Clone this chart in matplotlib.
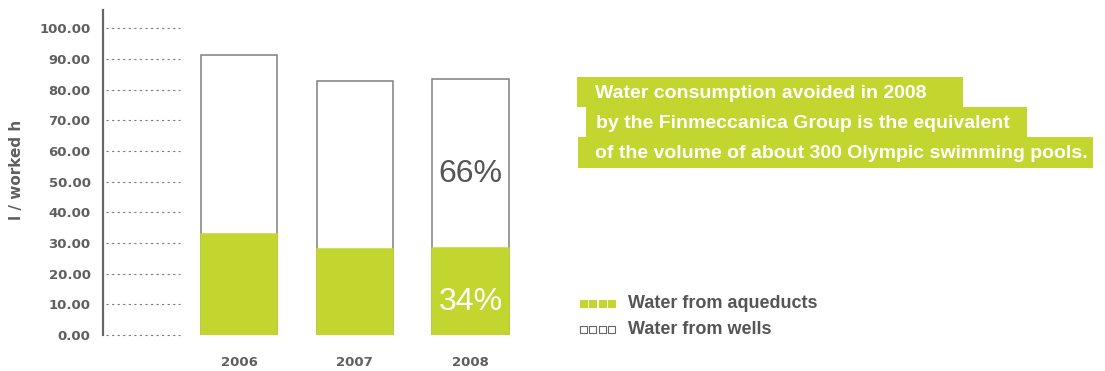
import numpy as np
import matplotlib.pyplot as plt
from matplotlib.patches import Rectangle

# water use per worked hour, litres
years = ["2006", "2007", "2008"]
aqueducts = [32.8, 28.0, 28.4]
wells = [58.5, 54.9, 55.0]
yticks = [0, 10, 20, 30, 40, 50, 60, 70, 80, 90, 100]

note_lines = [
    "Water consumption avoided in 2008",
    "by the Finmeccanica Group is the equivalent",
    "of the volume of about 300 Olympic swimming pools.",
]
legend_labels = ["Water from aqueducts", "Water from wells"]

GREEN = "#c3d62f"
GREY = "#5f5f5f"
EDGE = "#808080"

W, H = 1105, 371
fig = plt.figure(figsize=(W / 100, H / 100), dpi=100)


def fx(px):
    return px / W


def fy(py):
    return 1 - py / H


# axes placed in pixels: spine at x=103, baseline at y=335
ax = fig.add_axes([fx(103), fy(335), fx(530) - fx(103), fy(10) - fy(335)])
ax.set_xlim(-1.175, 2.515)
ax.set_ylim(0, 106)

x = np.arange(len(years))
totals = np.array(aqueducts) + np.array(wells)
ax.bar(x, totals, width=0.66, color="white", edgecolor=EDGE, linewidth=1.1, zorder=2)
ax.bar(x, aqueducts, width=0.66, color=GREEN, edgecolor=GREEN, linewidth=1.1, zorder=3)

# short dotted guides beside the axis
ax.hlines(yticks, -1.15, -0.51, colors="#7a7a7a", linewidth=0.8,
          linestyles=(0, (2, 3)), zorder=1, clip_on=False)

# shares for the last year
share_a = aqueducts[-1] / totals[-1] * 100
share_w = 100 - share_a
ax.text(x[-1], aqueducts[-1] + wells[-1] * 0.44, f"{share_w:.0f}%", ha="center", va="center",
        fontsize=23, color="#555555", family="Liberation Sans", zorder=4)
ax.text(x[-1], aqueducts[-1] * 0.38, f"{share_a:.0f}%", ha="center", va="center",
        fontsize=23, color="white", family="Liberation Sans", zorder=4)

for s in ["top", "right", "bottom"]:
    ax.spines[s].set_visible(False)
ax.spines["left"].set_color("#666666")
ax.spines["left"].set_linewidth(1.6)

ax.set_xticks(x)
ax.set_xticklabels(years)
ax.set_yticks(yticks)
ax.set_yticklabels([f"{v:.2f}" for v in yticks])
ax.tick_params(axis="both", length=0, colors=GREY, labelsize=9.5)
ax.tick_params(axis="y", pad=9)
ax.tick_params(axis="x", pad=15)
for lab in ax.get_xticklabels() + ax.get_yticklabels():
    lab.set_fontweight("bold")
    lab.set_family("DejaVu Sans")

fig.text(fx(17), fy(170), "l / worked h", rotation=90, ha="center", va="center",
         fontsize=11, fontweight="bold", color=GREY)

# highlighted note, one green band per line
bands = [(577, 963, 77, 107), (586, 1027, 107, 137), (578, 1093, 137, 168)]
text_x = [595, 596, 595]
for (x0, x1, y0, y1), tx, line in zip(bands, text_x, note_lines):
    fig.patches.append(Rectangle((fx(x0), fy(y1)), fx(x1) - fx(x0), fy(y0) - fy(y1),
                                 transform=fig.transFigure, facecolor=GREEN,
                                 edgecolor="none"))
    fig.text(fx(tx), fy((y0 + y1) / 2 + 1), line, ha="left", va="center",
             fontsize=14, fontweight="bold", family="Liberation Sans", color="white")

# legend
for row, (label, filled) in enumerate(zip(legend_labels, [True, False])):
    cy = 303 + row * 26
    for k in range(4):
        sx = 580 + k * 9.4
        fig.patches.append(Rectangle((fx(sx), fy(cy + 3.5)), fx(7), fy(0) - fy(7),
                                     transform=fig.transFigure,
                                     facecolor=GREEN if filled else "white",
                                     edgecolor=GREEN if filled else "#666666",
                                     linewidth=0.8))
    fig.text(fx(628), fy(cy), label, ha="left", va="center", fontsize=13,
             fontweight="bold", family="Liberation Sans", color="#555555")

fig.savefig("out.png", dpi=100)
